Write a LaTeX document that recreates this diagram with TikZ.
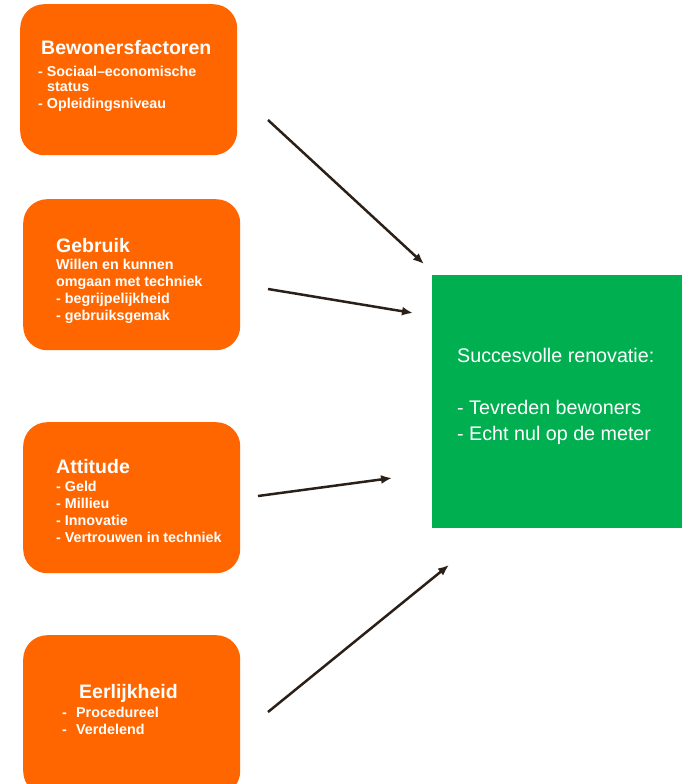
\documentclass[tikz,border=0pt]{standalone}
\usepackage{fontspec}
\setmainfont{Liberation Sans}
\usetikzlibrary{arrows.meta}
\definecolor{orangebox}{HTML}{FF6600}
\definecolor{greenbox}{HTML}{00B050}
\definecolor{arrowcol}{HTML}{2B2018}
\begin{document}
\begin{tikzpicture}[x=1pt,y=-1pt,
  obox/.style={fill=orangebox, draw=none, rounded corners=24pt, inner sep=0pt, anchor=north west, minimum width=217pt, minimum height=151pt},
  gbox/.style={fill=greenbox, draw=none, inner sep=0pt, anchor=north west, minimum width=250pt, minimum height=253pt},
  ttl/.style={text=white, font=\fontsize{19.5}{22}\selectfont\bfseries, inner sep=0pt, anchor=base west},
  itm/.style={text=white, font=\fontsize{14.3}{17}\selectfont\bfseries, inner sep=0pt, anchor=base west},
  gtxt/.style={text=white, font=\fontsize{19.7}{24}\selectfont, inner sep=0pt, anchor=base west},
  arr/.style={draw=arrowcol, line width=2.5pt, -{Latex[length=11pt,width=9pt]}}]
\useasboundingbox (0,0) rectangle (685,784);
\clip (0,0) rectangle (685,784);
% boxes
\node[obox] (b1) at (20,4) {};
\node[obox] (b2) at (23,199) {};
\node[obox] (b3) at (23,422) {};
\node[obox, minimum height=160pt] (b4) at (23,635) {};
\node[gbox] (g) at (432,275) {};
% box 1 text
\node[ttl] (t1) at (41,55) {Bewonersfactoren};
\node[itm] (t1a) at (38,76) {- Sociaal–economische};
\node[itm] (t1b) at (47,92) {status};
\node[itm] (t1c) at (38,108) {- Opleidingsniveau};
% box 2 text
\node[ttl] (t2) at (56,252) {Gebruik};
\node[itm] (t2a) at (56,269) {Willen en kunnen};
\node[itm] (t2b) at (56,286) {omgaan met techniek};
\node[itm] (t2c) at (56,303) {- begrijpelijkheid};
\node[itm] (t2d) at (56,320) {- gebruiksgemak};
% box 3 text
\node[ttl] (t3) at (56,473) {Attitude};
\node[itm] (t3a) at (56,491) {- Geld};
\node[itm] (t3b) at (56,508) {- Millieu};
\node[itm] (t3c) at (56,525) {- Innovatie};
\node[itm] (t3d) at (56,542) {- Vertrouwen in techniek};
% box 4 text
\node[ttl] (t4) at (79,698) {Eerlijkheid};
\node[itm] (t4a) at (62,717) {-};
\node[itm] (t4b) at (76,717) {Procedureel};
\node[itm] (t4c) at (62,734) {-};
\node[itm] (t4d) at (76,734) {Verdelend};
% green text
\node[gtxt] (ga) at (457,362) {Succesvolle renovatie:};
\node[gtxt] (gb) at (457,414) {- Tevreden bewoners};
\node[gtxt] (gc) at (457,440) {- Echt nul op de meter};
% arrows
\coordinate (a1s) at (268,120);
\coordinate (a1e) at (424,264);
\coordinate (a2s) at (268,289);
\coordinate (a2e) at (413,313);
\coordinate (a3s) at (258,496);
\coordinate (a3e) at (392,478);
\coordinate (a4s) at (268,712);
\coordinate (a4e) at (449,565);
\draw[arr] (a1s) -- (a1e);
\draw[arr] (a2s) -- (a2e);
\draw[arr] (a3s) -- (a3e);
\draw[arr] (a4s) -- (a4e);
\end{tikzpicture}
\end{document}
